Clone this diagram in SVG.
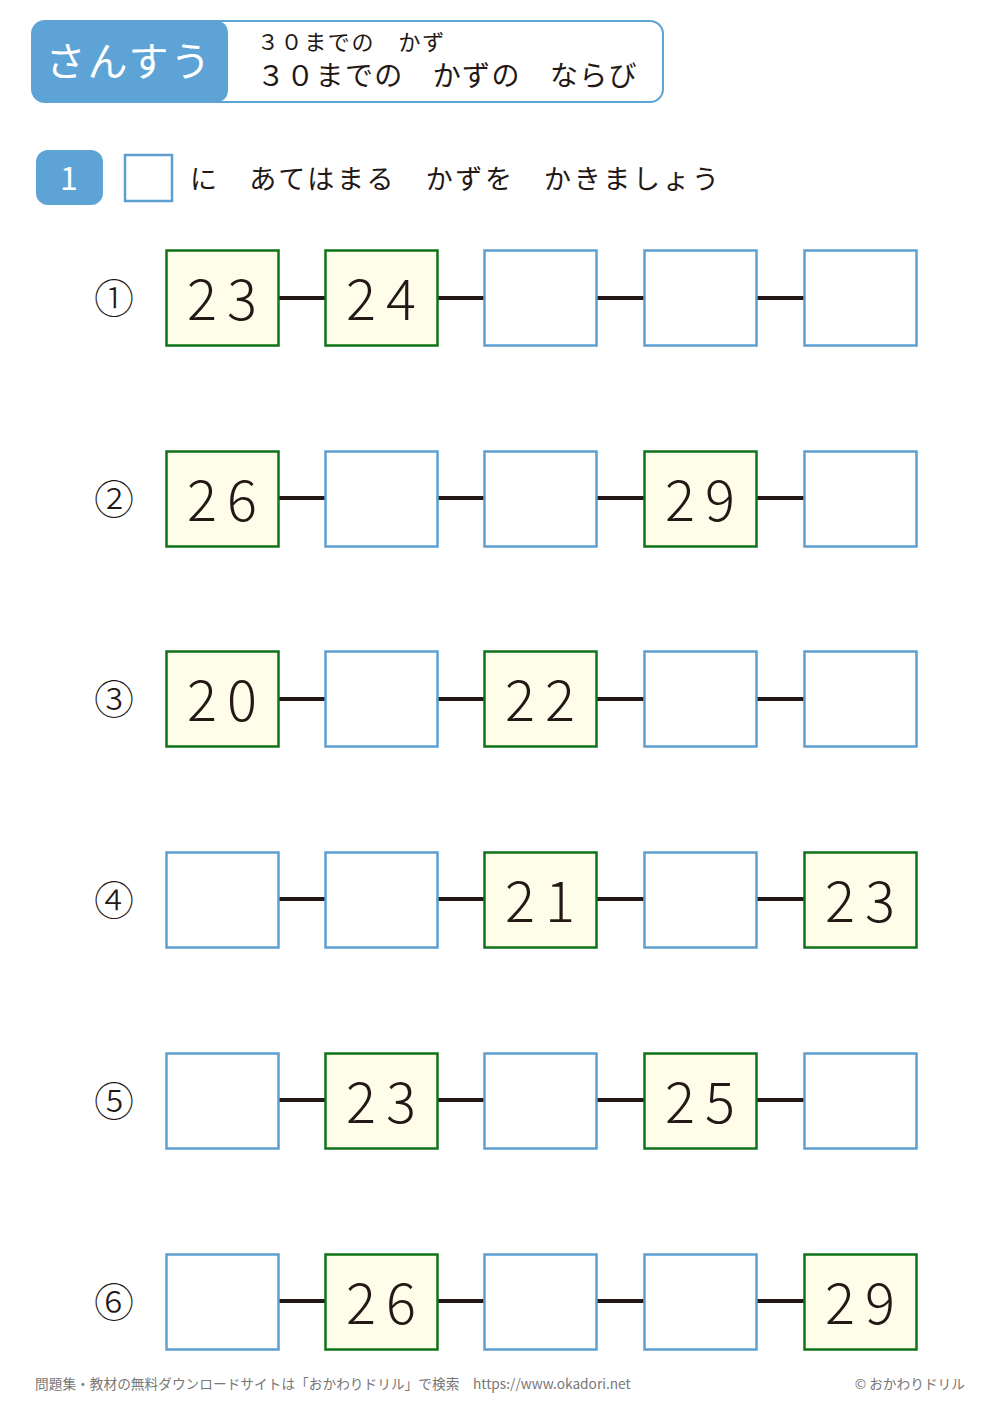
<svg xmlns="http://www.w3.org/2000/svg" width="1000" height="1415" viewBox="0 0 1000 1415">
<style>
.t{font-family:"Noto Sans CJK JP","Noto Sans",sans-serif;fill:#231815}
.g{fill:#fdfde9;stroke:#0e7318;stroke-width:2.5}
.b{fill:#fff;stroke:#5e9fd0;stroke-width:2.5}
.n{font-family:"Noto Sans CJK JP","Noto Sans",sans-serif;font-size:56px;font-weight:300;fill:#231815;text-anchor:middle;letter-spacing:10px}
.c{stroke:#231815;stroke-width:4}
.lab{font-family:"Noto Sans CJK JP","DejaVu Sans",sans-serif;font-size:40px;font-weight:300;fill:#231815;text-anchor:middle}
</style>
<rect width="1000" height="1415" fill="#fff"/>
<g id="header">
<rect x="32" y="21" width="631" height="81" rx="13" fill="#fff" stroke="#5ea3d5" stroke-width="2"/>
<path d="M45,21 H215 Q228,21 228,34 V89 Q228,102 215,102 H45 Q32,102 32,89 V34 Q32,21 45,21 Z" fill="#5ea3d5"/>
<text x="129" y="76" class="t" style="font-size:40px;fill:#fff;letter-spacing:2px" text-anchor="middle">さんすう</text>
<text x="257" y="50" class="t" style="font-size:22px;letter-spacing:1.6px">３０までの　かず</text>
<text x="257" y="86" class="t" style="font-size:28px;letter-spacing:1.3px">３０までの　かずの　ならび</text>
</g>
<g id="instruction">
<rect x="36" y="150" width="67" height="55" rx="12" fill="#5ea3d5"/>
<text x="69" y="190" class="t" style="font-size:32px;fill:#fff" text-anchor="middle">1</text>
<rect x="125" y="155" width="47" height="46" class="b"/>
<text x="190" y="189" class="t" style="font-size:27px;letter-spacing:2.6px">に　あてはまる　かずを　かきましょう</text>
</g>
<g id="connectors">
<path class="c" d="M279,298H325M438,298H484M597,298H644M757,298H804"/>
<path class="c" d="M279,498H325M438,498H484M597,498H644M757,498H804"/>
<path class="c" d="M279,699H325M438,699H484M597,699H644M757,699H804"/>
<path class="c" d="M279,899H325M438,899H484M597,899H644M757,899H804"/>
<path class="c" d="M279,1100H325M438,1100H484M597,1100H644M757,1100H804"/>
<path class="c" d="M279,1301H325M438,1301H484M597,1301H644M757,1301H804"/>
</g>
<g id="row1">
<text x="114" y="313" class="lab">①</text>
<rect x="166.5" y="250.5" width="112" height="95" class="g"/><text x="227" y="320" class="n">23</text>
<rect x="325.5" y="250.5" width="112" height="95" class="g"/><text x="386" y="320" class="n">24</text>
<rect x="484.5" y="250.5" width="112" height="95" class="b"/>
<rect x="644.5" y="250.5" width="112" height="95" class="b"/>
<rect x="804.5" y="250.5" width="112" height="95" class="b"/>
</g>
<g id="row2">
<text x="114" y="514" class="lab">②</text>
<rect x="166.5" y="451.5" width="112" height="95" class="g"/><text x="227" y="521" class="n">26</text>
<rect x="325.5" y="451.5" width="112" height="95" class="b"/>
<rect x="484.5" y="451.5" width="112" height="95" class="b"/>
<rect x="644.5" y="451.5" width="112" height="95" class="g"/><text x="705" y="521" class="n">29</text>
<rect x="804.5" y="451.5" width="112" height="95" class="b"/>
</g>
<g id="row3">
<text x="114" y="714" class="lab">③</text>
<rect x="166.5" y="651.5" width="112" height="95" class="g"/><text x="227" y="721" class="n">20</text>
<rect x="325.5" y="651.5" width="112" height="95" class="b"/>
<rect x="484.5" y="651.5" width="112" height="95" class="g"/><text x="545" y="721" class="n">22</text>
<rect x="644.5" y="651.5" width="112" height="95" class="b"/>
<rect x="804.5" y="651.5" width="112" height="95" class="b"/>
</g>
<g id="row4">
<text x="114" y="915" class="lab">④</text>
<rect x="166.5" y="852.5" width="112" height="95" class="b"/>
<rect x="325.5" y="852.5" width="112" height="95" class="b"/>
<rect x="484.5" y="852.5" width="112" height="95" class="g"/><text x="545" y="922" class="n">21</text>
<rect x="644.5" y="852.5" width="112" height="95" class="b"/>
<rect x="804.5" y="852.5" width="112" height="95" class="g"/><text x="865" y="922" class="n">23</text>
</g>
<g id="row5">
<text x="114" y="1116" class="lab">⑤</text>
<rect x="166.5" y="1053.5" width="112" height="95" class="b"/>
<rect x="325.5" y="1053.5" width="112" height="95" class="g"/><text x="386" y="1123" class="n">23</text>
<rect x="484.5" y="1053.5" width="112" height="95" class="b"/>
<rect x="644.5" y="1053.5" width="112" height="95" class="g"/><text x="705" y="1123" class="n">25</text>
<rect x="804.5" y="1053.5" width="112" height="95" class="b"/>
</g>
<g id="row6">
<text x="114" y="1317" class="lab">⑥</text>
<rect x="166.5" y="1254.5" width="112" height="95" class="b"/>
<rect x="325.5" y="1254.5" width="112" height="95" class="g"/><text x="386" y="1324" class="n">26</text>
<rect x="484.5" y="1254.5" width="112" height="95" class="b"/>
<rect x="644.5" y="1254.5" width="112" height="95" class="b"/>
<rect x="804.5" y="1254.5" width="112" height="95" class="g"/><text x="865" y="1324" class="n">29</text>
</g>
<g id="footer">
<text x="35" y="1389" class="t" style="font-size:13.7px;fill:#777">問題集・教材の無料ダウンロードサイトは「おかわりドリル」で検索　https://www.okadori.net</text>
<text x="965" y="1389" class="t" style="font-size:13.7px;fill:#777" text-anchor="end">© おかわりドリル</text>
</g>
</svg>
